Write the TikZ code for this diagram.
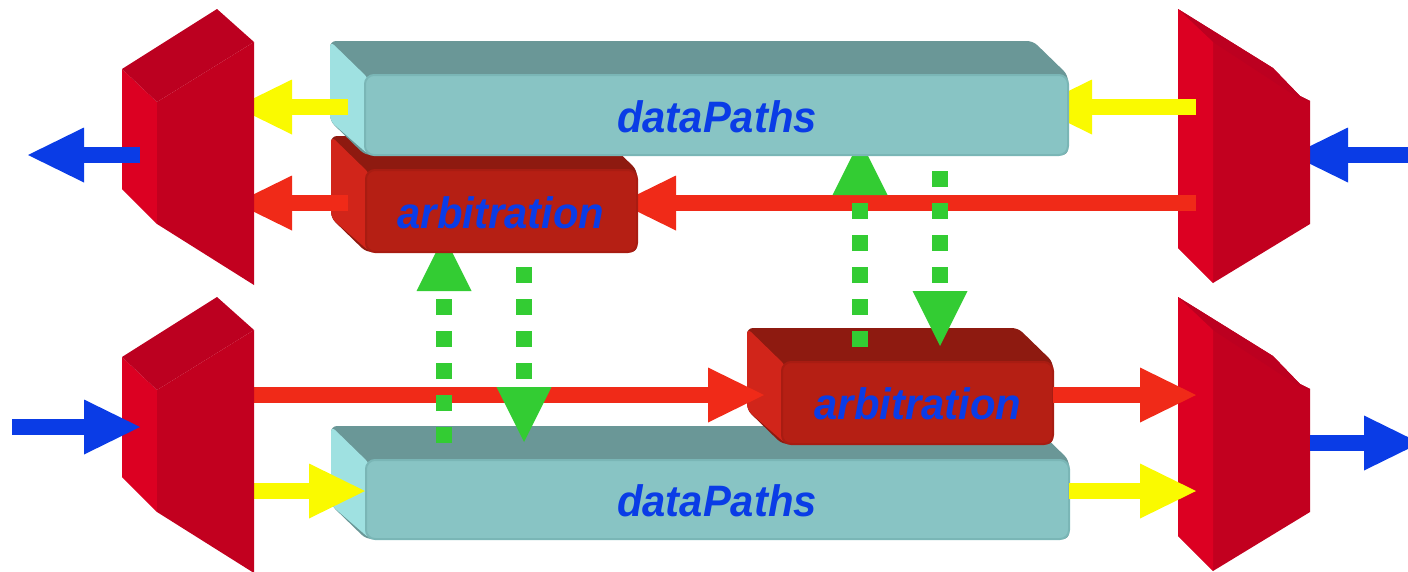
\documentclass[tikz,border=0pt]{standalone}
\usepackage{fontspec}
\setmainfont{Liberation Sans}
\usetikzlibrary{arrows.meta}

\definecolor{arrRed}{RGB}{240,42,24}
\definecolor{arrYel}{RGB}{250,250,0}
\definecolor{arrBlue}{RGB}{10,60,230}
\definecolor{arrGreen}{RGB}{51,204,51}
\definecolor{blkFront}{RGB}{194,0,31}
\definecolor{blkSide}{RGB}{220,0,34}
\definecolor{blkTop}{RGB}{188,0,32}
\definecolor{dpFront}{RGB}{136,196,196}
\definecolor{dpTop}{RGB}{106,151,151}
\definecolor{dpSide}{RGB}{159,225,225}
\definecolor{dpEdge}{RGB}{122,182,182}
\definecolor{arFront}{RGB}{181,31,20}
\definecolor{arTop}{RGB}{142,26,16}
\definecolor{arSide}{RGB}{209,37,26}
\definecolor{arEdge}{RGB}{168,28,18}
\definecolor{txtBlue}{RGB}{10,60,230}

% 3D box: front face x1,y1,x2,y2 ; colours front, top, side, edge
\newcommand\pseudobox[8]{%
  \fill[#6, rounded corners=6pt] ({#1-35},{#2-34}) -- ({#3-35},{#2-34}) -- (#3,#2)
        -- (#3,#4) -- (#1,#4) -- ({#1-35},{#4-34}) -- cycle;
  \fill[#7, rounded corners=6pt] ({#1-35},{#2-34}) -- ({#1+4},{#2+4}) -- ({#1+4},#4)
        -- ({#1-35},{#4-34}) -- cycle;
  \filldraw[fill=#5, draw=#8, line width=2pt, rounded corners=9pt] (#1,#2) rectangle (#3,#4);
}

\tikzset{
  bigarrow/.style={line width=16pt, -{Triangle[length=56pt,width=55pt,line width=0pt]}},
  greenarrow/.style={arrGreen, line width=16pt, dash pattern=on 16pt off 16pt,
      -{Triangle[length=55pt,width=55pt,line width=0pt]}},
  lbl/.style={text=txtBlue, font=\fontsize{44}{50}\selectfont\bfseries\itshape,
      inner sep=0pt, anchor=base}
}

\begin{document}
\begin{tikzpicture}[x=1pt,y=-1pt]
\useasboundingbox (0,0) rectangle (1408,571);

% ---------- named end points ----------
\coordinate (bTRs) at (1408,155); \coordinate (bTRe) at (1292,155);
\coordinate (rTRs) at (1196,203); \coordinate (rTRe) at (620,203);
\coordinate (yTRs) at (1196,107); \coordinate (yTRe) at (1036,107);
\coordinate (yTLs) at (348,107);  \coordinate (yTLe) at (236,107);
\coordinate (rTLs) at (348,203);  \coordinate (rTLe) at (236,203);
\coordinate (bTLs) at (140,155);  \coordinate (bTLe) at (28,155);
\coordinate (bBLs) at (12,427);   \coordinate (bBLe) at (140,427);
\coordinate (rBLs) at (254,395);  \coordinate (rBLe) at (764,395);
\coordinate (yBLs) at (254,491);  \coordinate (yBLe) at (365,491);
\coordinate (rBRs) at (1053,395); \coordinate (rBRe) at (1196,395);
\coordinate (yBRs) at (1069,491); \coordinate (yBRe) at (1196,491);
\coordinate (bBRs) at (1310,443); \coordinate (bBRe) at (1420,443);
\coordinate (g1s) at (444,443); \coordinate (g1e) at (444,236);
\coordinate (g2s) at (524,267); \coordinate (g2e) at (524,442);
\coordinate (g3s) at (860,347); \coordinate (g3e) at (860,140);
\coordinate (g4s) at (940,171); \coordinate (g4e) at (940,346);

% ---------- top-right blue (under block) ----------
\draw[bigarrow, arrBlue] (bTRs) -- (bTRe);

% ---------- right blocks ----------
\foreach \oy/\nm in {0/blkTR, 288/blkBR}{
  \fill[blkFront] (1178,9+\oy) -- (1273,68+\oy) -- (1300,96+\oy) -- (1310,101+\oy)
       -- (1310,224+\oy) -- (1213,283+\oy) -- (1178,248+\oy) -- cycle;
  \fill[blkTop] (1178,9+\oy) -- (1273,68+\oy) -- (1300,96+\oy) -- (1310,101+\oy)
       -- (1300,99+\oy) -- (1213,42+\oy) -- cycle;
  \fill[blkSide] (1178,9+\oy) -- (1213,42+\oy) -- (1213,283+\oy) -- (1178,248+\oy) -- cycle;
  \coordinate (\nm) at (1244,146+\oy);
}

% ---------- lower boxes ----------
\pseudobox{366}{460}{1069}{539}{dpFront}{dpTop}{dpSide}{dpEdge}
\node[lbl] (dpB) at (717,516) {\scalebox{0.95}[1]{dataPaths}};
\pseudobox{782}{362}{1053}{444}{arFront}{arTop}{arSide}{arEdge}
\node[lbl] (arB) at (918,419) {\scalebox{0.95}[1]{arbitration}};

% ---------- arrows passing under the upper boxes ----------
\draw[bigarrow, arrRed] (rTRs) -- (rTRe);
\draw[bigarrow, arrYel] (yTRs) -- (yTRe);
\draw[bigarrow, arrRed] (rBLs) -- (rBLe);
\draw[bigarrow, arrRed] (rBRs) -- (rBRe);
\draw[bigarrow, arrYel] (yBRs) -- (yBRe);
\draw[greenarrow] (g1s) -- (g1e);
\draw[greenarrow] (g2s) -- (g2e);
\draw[greenarrow] (g3s) -- (g3e);
\draw[greenarrow] (g4s) -- (g4e);

% ---------- upper boxes ----------
\pseudobox{366}{170}{637}{252}{arFront}{arTop}{arSide}{arEdge}
\node[lbl] (arT) at (501,228) {\scalebox{0.95}[1]{arbitration}};
\pseudobox{365}{75}{1068}{155}{dpFront}{dpTop}{dpSide}{dpEdge}
\node[lbl] (dpT) at (717,132) {\scalebox{0.95}[1]{dataPaths}};

% ---------- arrows over boxes ----------
\draw[bigarrow, arrYel] (yTLs) -- (yTLe);
\draw[bigarrow, arrRed] (rTLs) -- (rTLe);
\draw[bigarrow, arrYel] (yBLs) -- (yBLe);
\draw[bigarrow, arrBlue] (bBRs) -- (bBRe);

% ---------- left blocks ----------
\foreach \oy/\nm in {0/blkTL, 288/blkBL}{
  \fill[blkSide] (122,69+\oy) -- (157,102+\oy) -- (157,224+\oy) -- (122,189+\oy) -- cycle;
  \fill[blkTop] (122,69+\oy) -- (217,9+\oy) -- (254,42+\oy) -- (157,102+\oy) -- cycle;
  \fill[blkFront] (157,102+\oy) -- (254,42+\oy) -- (254,285+\oy) -- (157,224+\oy) -- cycle;
  \coordinate (\nm) at (200,150+\oy);
}

% ---------- left blue arrows ----------
\draw[bigarrow, arrBlue] (bTLs) -- (bTLe);
\draw[bigarrow, arrBlue] (bBLs) -- (bBLe);

\end{tikzpicture}
\end{document}
